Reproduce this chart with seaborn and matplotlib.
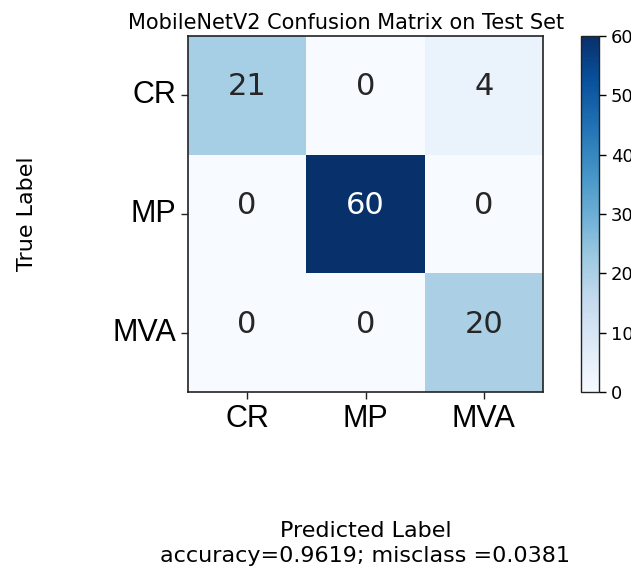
import numpy as np
import pandas as pd
import matplotlib
matplotlib.use("Agg")
import matplotlib.pyplot as plt
import seaborn as sns

# confusion matrix values
classes = ["CR", "MP", "MVA"]
row_cr = [21, 0, 4]
row_mp = [0, 60, 0]
row_mva = [0, 0, 20]
accuracy = 0.9619
misclass = 0.0381

cm = pd.DataFrame([row_cr, row_mp, row_mva], index=classes, columns=classes)

fig = plt.figure(figsize=(6.31, 5.75), dpi=100)
ax = fig.add_axes([188 / 631, 1 - 392 / 575, 355 / 631, 356 / 575])
cax = fig.add_axes([581 / 631, 1 - 392 / 575, 18 / 631, 356 / 575])

sns.heatmap(cm, annot=True, fmt="d", cmap="Blues", vmin=0, vmax=60,
            ax=ax, cbar_ax=cax, square=False,
            annot_kws={"fontsize": 22, "va": "baseline"})

# frame around the matrix and the colour bar, like plain imshow
for side in ax.spines.values():
    side.set_visible(True)
    side.set_linewidth(1.2)
    side.set_color("#222222")
cb = ax.collections[0].colorbar
cb.outline.set_visible(True)
cb.outline.set_linewidth(1.0)
cb.outline.set_edgecolor("#222222")
cb.ax.tick_params(labelsize=13, length=5, width=1)

ax.set_xticklabels(classes, fontsize=22, family="Liberation Sans", rotation=0)
ax.set_yticklabels(classes, fontsize=22, family="Liberation Sans", rotation=0)
ax.tick_params(axis="both", length=5, width=1, color="#222222")

ax.set_title("MobileNetV2 Confusion Matrix on Test Set", fontsize=15,
             x=0.444, pad=5)
ax.set_ylabel("True Label", fontsize=16, labelpad=54)
ax.set_xlabel(f"Predicted Label\naccuracy={accuracy:0.4f}; misclass ={misclass:0.4f}",
              fontsize=16, labelpad=63, linespacing=1.3)

fig.savefig("out.png", dpi=100)
